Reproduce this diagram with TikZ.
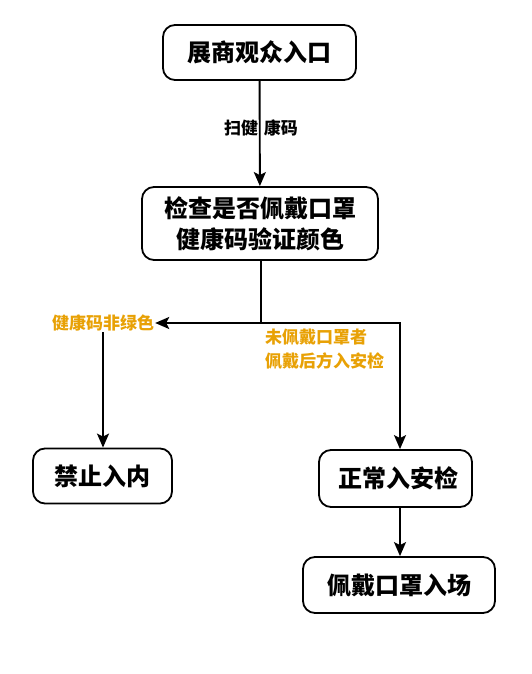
\documentclass[tikz,border=0pt]{standalone}
\usepackage{fontspec}
\setmainfont{Noto Sans CJK SC}
\usetikzlibrary{arrows.meta}
\definecolor{amber}{HTML}{E8A105}
\tikzset{
  stepbox/.style={draw, line width=1.8pt, rounded corners=12pt, font=\fontsize{24}{31}\selectfont\bfseries, align=center, inner sep=0pt},
  arr/.style={line width=1.9pt, -{Stealth[length=14pt, width=12pt, inset=3pt]}},
  note/.style={font=\fontsize{17}{24}\selectfont\bfseries, inner sep=1pt},
}
\begin{document}
\begin{tikzpicture}[x=1pt, y=1pt]
\useasboundingbox (0,0) rectangle (531,674);
\node[stepbox, minimum width=193pt, minimum height=55pt] (entry) at (259.5,621.5){展商观众入口};
\node[stepbox, minimum width=236pt, minimum height=73pt] (check) at (260,450.5){检查是否佩戴口罩\\健康码验证颜色};
\node[stepbox, minimum width=139pt, minimum height=55pt] (deny) at (102.5,198){禁止入内};
\node[stepbox, minimum width=153pt, minimum height=57pt] (secure) at (395.5,195.5){\hspace{6pt}正常入安检};
\node[stepbox, minimum width=192pt, minimum height=56pt] (enter) at (399,89){佩戴口罩入场};
\draw[arr](entry) -- (check);
\node[note] (scan) at (261,546){扫健\hspace{6pt}康码};
\coordinate (split) at (261,351);
\coordinate (turnR) at (400,351);
\node[note, text=amber] (nogreen) at (103,351){健康码非绿色};
\node[note, text=amber, align=left, anchor=north west] (wear) at (264,346){未佩戴口罩者\\佩戴后方入安检};
\draw[line width=1.9pt](check.south -| split) -- (split);
\draw[arr](split) -- (nogreen.east);
\draw[arr](nogreen.south) -- (nogreen.south |- deny.north);
\draw[arr](split) -- (turnR) -- (turnR |- secure.north);
\draw[arr](secure.south -| turnR) -- (enter.north -| turnR);
\end{tikzpicture}
\end{document}
